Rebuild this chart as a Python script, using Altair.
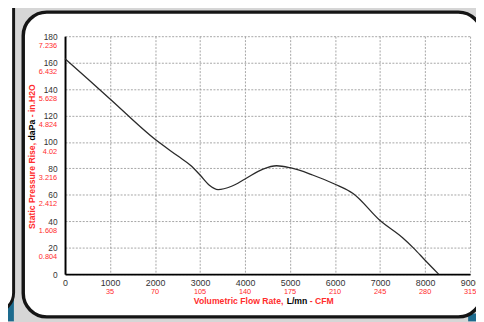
import altair as alt
import pandas as pd

# ---- data ----
flow = [0, 1000, 2000, 2500, 2800, 3000, 3200, 3400, 3700, 4000, 4400, 4700, 5000, 5500, 6000, 6400, 7000, 7500, 7750, 8000, 8300]
pressure = [163, 132.5, 102, 89.5, 82, 75, 67.5, 64, 66.5, 72, 79.5, 82, 80.5, 75, 68, 61, 40.5, 27.5, 19.5, 10.5, 0]

x_ticks = [0, 1000, 2000, 3000, 4000, 5000, 6000, 7000, 8000, 9000]
x_ticks_cfm = ["", "35", "70", "105", "140", "175", "210", "245", "280", "315"]
y_ticks = [0, 20, 40, 60, 80, 100, 120, 140, 160, 180]
y_ticks_inh2o = ["", "0.804", "1.608", "2.412", "3.216", "4.02", "4.824", "5.628", "6.432", "7.236"]

x_title_parts = ["Volumetric Flow Rate,", "L/mn", "- CFM"]
y_title_parts = ["Static Pressure Rise,", "daPa", "- in.H2O"]

W, H = 412, 242
FONT = "Liberation Sans"
RED = "#ff2d2d"
TXT = "#333333"
EDGE = "#151515"
TEAL = "#1d6b8e"
GRAY = "#d6d6d6"

x_scale = alt.Scale(domain=[0, 9000], nice=False, zero=False)
y_scale = alt.Scale(domain=[0, 180], nice=False)

grid_kw = dict(grid=True, gridDash=[2, 1.5], gridColor="#8f8f8f", gridWidth=0.8,
               domainColor="black", domainWidth=2, ticks=False, format="d",
               labelFont=FONT, labelColor=TXT, title=None)
x_axis = alt.Axis(values=x_ticks, labelPadding=5, labelFontSize=9, labelFlush=False,
                  labelOverlap=False, **grid_kw)
y_axis = alt.Axis(values=y_ticks, labelPadding=8, labelFontSize=8.5, labelOverlap=False, **grid_kw)

one = pd.DataFrame({"a": [0]})


def box(x, x2, y, y2, **kw):
    return alt.Chart(one).mark_rect(**kw).encode(
        x=alt.value(x), x2=alt.value(x2), y=alt.value(y), y2=alt.value(y2)
    )


# main panel bounds (plot coordinates)
PX0, PX1, PY0, PY1, PR = -42.5, 424, -24.5, 285.5, 24
S = 90
gray_surround = box(PX0 - S / 2, PX1 + S / 2, PY0 - S / 2, PY1 + S / 2,
                    fill="white", fillOpacity=0, stroke=GRAY, strokeWidth=S, cornerRadius=PR + S / 2)
teal_left = box(-60, -52, 256, 290, fill=TEAL)
teal_right = box(410, 420, 282, 290, fill=TEAL)
left_panel = box(-170, -52.3, -60, 281, fill="white", stroke=EDGE, strokeWidth=3, cornerRadius=20)
main_border = box(PX0, PX1, PY0, PY1, fill="white", fillOpacity=0, stroke=EDGE, strokeWidth=3.5, cornerRadius=PR)

curve = alt.Chart(pd.DataFrame({"flow": flow, "pressure": pressure})).mark_line(
    interpolate="monotone", color="#2a2a2a", strokeWidth=1.3
).encode(
    x=alt.X("flow:Q", scale=x_scale, axis=x_axis),
    y=alt.Y("pressure:Q", scale=y_scale, axis=y_axis),
)

y_red = alt.Chart(pd.DataFrame({"v": y_ticks, "t": y_ticks_inh2o})).mark_text(
    align="right", baseline="middle", fontSize=7.5, font=FONT, color=RED, dy=9.8
).encode(y=alt.Y("v:Q", scale=y_scale, axis=y_axis), x=alt.value(-8), text="t:N")

x_red = alt.Chart(pd.DataFrame({"v": x_ticks, "t": x_ticks_cfm})).mark_text(
    align="center", baseline="middle", fontSize=7.5, font=FONT, color=RED
).encode(x=alt.X("v:Q", scale=x_scale, axis=x_axis), y=alt.value(H + 18.5), text="t:N")


def label(txt, x, y, color, align="left", angle=0):
    kw = dict(align=align, baseline="middle", fontSize=8.8, font=FONT, fontWeight="bold", color=color)
    if angle:
        kw["angle"] = angle
    return alt.Chart(one).mark_text(**kw).encode(
        x=alt.value(x), y=alt.value(y), text=alt.value(txt)
    )


TY = 269
xt = [
    label(x_title_parts[0], 131, TY, RED),
    label(x_title_parts[1], 225.4, TY, "black"),
    label(x_title_parts[2], 248.9, TY, RED),
]
yt = [
    label(y_title_parts[0], -33.5, 196, RED, angle=270),
    label(y_title_parts[1], -33.5, 106, "black", angle=270),
    label(y_title_parts[2], -33.5, 82.5, RED, angle=270),
]

chart = alt.layer(
    curve, gray_surround, teal_left, teal_right, left_panel, main_border, y_red, x_red, *xt, *yt
).properties(
    width=W, height=H,
    autosize=alt.AutoSizeParams(type="none"),
    padding={"left": 58, "top": 26, "right": 6, "bottom": 46},
    background="white",
).configure_view(stroke=None)

chart.save("out.html", embed_options={"renderer": "svg", "actions": False})
